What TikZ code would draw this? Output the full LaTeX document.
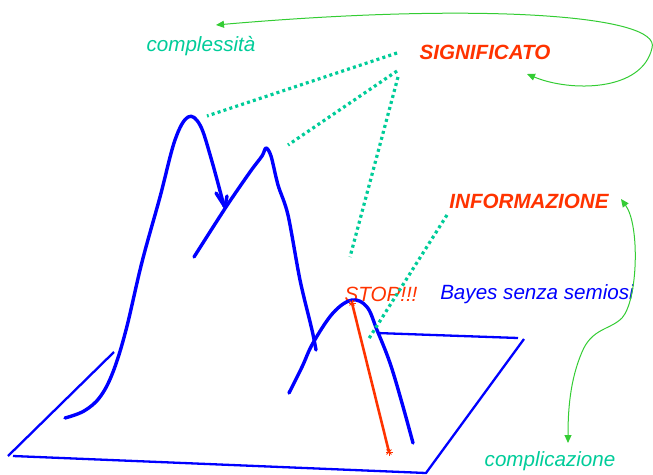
\documentclass[tikz,border=0pt]{standalone}
\usepackage{fontspec}
\setmainfont{Liberation Sans}
\usetikzlibrary{arrows.meta}
\definecolor{redor}{RGB}{255,51,0}
\definecolor{tealt}{RGB}{0,204,153}
\definecolor{greena}{RGB}{51,204,51}
\definecolor{blu}{RGB}{0,0,255}
\tikzset{
  lbl/.style={font=\fontsize{20.6}{24}\selectfont\itshape, inner sep=0pt},
  blbl/.style={lbl, font=\fontsize{20.6}{24}\selectfont\itshape\bfseries},
  curve/.style={blu, line width=3.4pt, line cap=round, line join=round},
  plane/.style={blu, line width=2.3pt},
  dots/.style={tealt, line width=3.2pt, dash pattern=on 3pt off 3.2pt},
}
\begin{document}
\begin{tikzpicture}[x=1pt,y=-1pt]
\useasboundingbox (0,0) rectangle (653,474);
% texts
\node[lbl, text=tealt] (compl) at (201,46) {complessità};
\node[blbl, text=redor] (sign) at (485,52) {SIGNIFICATO};
\node[blbl, text=redor] (info) at (529,201) {INFORMAZIONE};
\node[lbl, text=redor] (stop) at (381,294) {STOP!!!};
\node[lbl, text=blu] (bayes) at (537,294) {Bayes senza semiosi};
\node[lbl, text=tealt] (compz) at (550,461) {complicazione};
% plane
\coordinate (p1) at (114,352);
\coordinate (p2) at (8,456);
\coordinate (p3) at (13,456);
\coordinate (p4) at (426,473);
\coordinate (p5) at (524,339);
\coordinate (p6) at (377,333);
\coordinate (p7) at (518,338);
\draw[plane] (p1) -- (p2);
\draw[plane] (p3) -- (p4) -- (p5);
\draw[plane] (p6) -- (p7);
% blue curves
\draw[curve] plot[smooth, tension=0.6] coordinates {(65,418) (84,411) (100,397) (113,372) (126,330) (142,262) (160,197) (175,140) (188,117) (200,125) (211,158) (224,206)};
\draw[curve] (216,193) -- (225,207) -- (227,196);
\draw[curve] plot[smooth, tension=0.5] coordinates {(194,257) (226,207) (250,172) (262,156) (266,148) (271,156) (278,185) (288,215) (300,280) (312,330) (316,350)};
\draw[curve] plot[smooth, tension=0.6] coordinates {(289,393) (302,367) (313,343) (333,313) (352,300) (367,307) (377,330) (390,363) (402,403) (413,443)};
% red line
\coordinate (r1) at (352,303);
\coordinate (r2) at (389,452);
\draw[redor, line width=2.6pt] (r1) -- (r2);
\foreach \c in {r1,r2}{
  \foreach \a in {0,45,90,135}{
    \draw[redor, line width=1pt] (\c) ++(\a:3.5pt) -- ++(\a+180:7pt);
  }
}
% dotted lines
\coordinate (s1) at (397,53);
\coordinate (s2) at (397,71);
\coordinate (s3) at (398,77);
\coordinate (i1) at (447,215);
\draw[dots] (s1) -- (207,116) coordinate (e1);
\draw[dots] (s2) -- (288,145) coordinate (e2);
\draw[dots] (s3) -- (350,257) coordinate (e3);
\draw[dots] (i1) -- (368,340) coordinate (e4);
% green arrows
\coordinate (g1) at (527,74);
\coordinate (g2) at (216,25);
\draw[greena, line width=1pt, {Triangle[length=8pt,width=7pt]}-{Triangle[length=8pt,width=7pt]}]
  (g1) .. controls (570,92) and (642,92) .. (652,48)
       .. controls (662,15) and (480,2) .. (g2);
\coordinate (h1) at (621,199);
\coordinate (h2) at (568,443);
\draw[greena, line width=1pt, {Triangle[length=8pt,width=7pt]}-{Triangle[length=8pt,width=7pt]}]
  (h1) .. controls (640,225) and (638,300) .. (622,318)
       .. controls (610,330) and (592,328) .. (582,352)
       .. controls (570,380) and (568,410) .. (h2);
\end{tikzpicture}
\end{document}
